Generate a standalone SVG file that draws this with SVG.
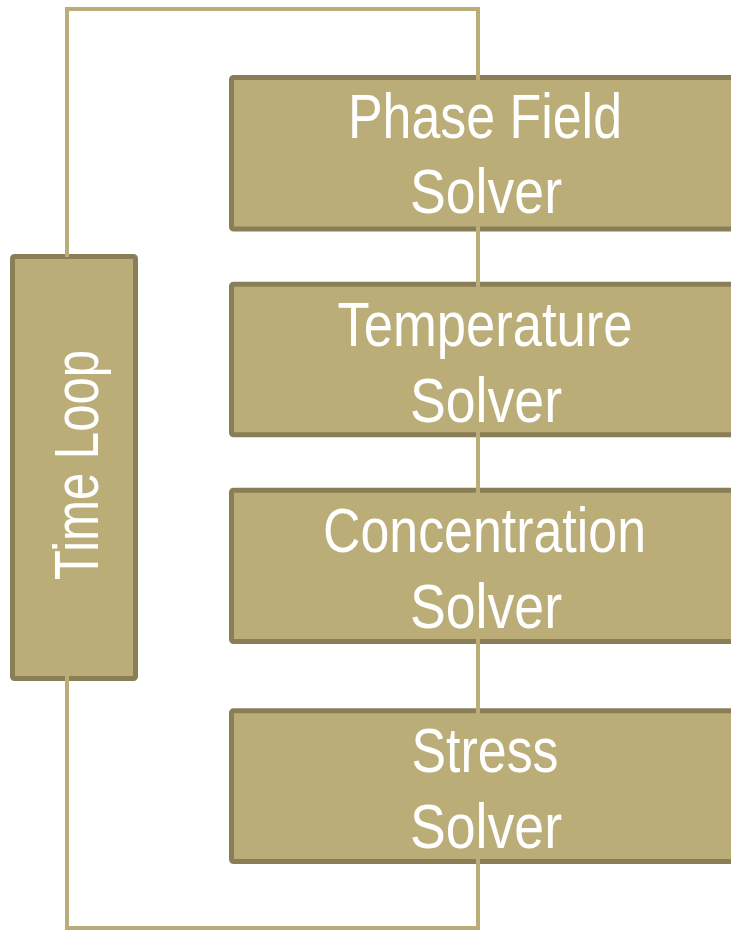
<svg xmlns="http://www.w3.org/2000/svg" width="731" height="930" viewBox="0 0 731 930">
  <style>
    .box { fill: #BBAD78; stroke: #8A7E57; stroke-width: 5; }
    .link { fill: none; stroke: #BBAD78; stroke-width: 4; }
    .label { fill: #FFFFFF; font-family: "Liberation Sans", Arial, sans-serif; font-size: 63px; text-anchor: middle; }
  </style>
  <rect width="731" height="930" fill="#FFFFFF"/>

  <!-- solver boxes (run off the right edge) -->
  <g id="phase-field">
    <rect class="box" x="231.5" y="77.5" width="520" height="151.5" rx="2"/>
  </g>
  <g id="temperature">
    <rect class="box" x="231.5" y="284.2" width="520" height="150.6" rx="2"/>
  </g>
  <g id="concentration">
    <rect class="box" x="231.5" y="490.2" width="520" height="151.3" rx="2"/>
  </g>
  <g id="stress">
    <rect class="box" x="231.5" y="710.8" width="520" height="150.7" rx="2"/>
  </g>
  <g id="time-loop">
    <rect class="box" x="12.5" y="256.5" width="123" height="422" rx="2"/>
  </g>

  <!-- loop connectors -->
  <g id="connectors">
    <path class="link" d="M67 257 V9 H478 V928 H67 V669"/>
  </g>

  <!-- labels -->
  <g id="labels">
    <text class="label" x="485" y="138" textLength="274" lengthAdjust="spacingAndGlyphs">Phase Field</text>
    <text class="label" x="486" y="213" textLength="152" lengthAdjust="spacingAndGlyphs">Solver</text>
    <text class="label" x="485" y="346" textLength="295" lengthAdjust="spacingAndGlyphs">Temperature</text>
    <text class="label" x="486" y="421.5" textLength="152" lengthAdjust="spacingAndGlyphs">Solver</text>
    <text class="label" x="484.5" y="552" textLength="323" lengthAdjust="spacingAndGlyphs">Concentration</text>
    <text class="label" x="486" y="627.5" textLength="152" lengthAdjust="spacingAndGlyphs">Solver</text>
    <text class="label" x="485" y="771.5" textLength="147" lengthAdjust="spacingAndGlyphs">Stress</text>
    <text class="label" x="486" y="848" textLength="152" lengthAdjust="spacingAndGlyphs">Solver</text>
    <text class="label" transform="translate(98,465) rotate(-90)" x="0" y="0" textLength="230" lengthAdjust="spacingAndGlyphs">Time Loop</text>
  </g>
</svg>
